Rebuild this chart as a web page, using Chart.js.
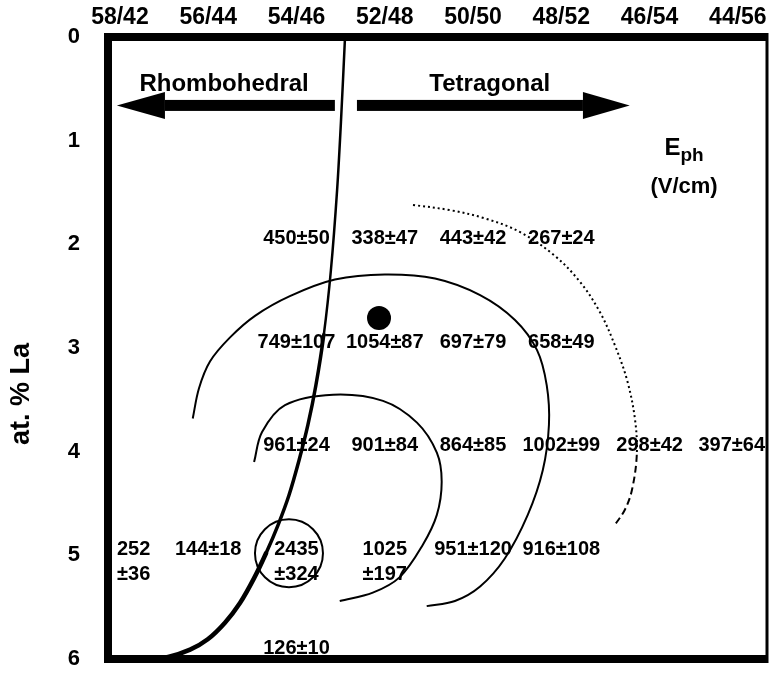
<!DOCTYPE html>
<html>
<head>
<meta charset="utf-8">
<script src="https://cdn.jsdelivr.net/npm/chart.js@4.4.1/dist/chart.umd.min.js"></script>
<style>
  html, body { margin: 0; padding: 0; background: #fff; overflow: hidden; }
  canvas { display: block; }
</style>
</head>
<body>
<canvas id="ephChart" width="771" height="680"></canvas>
<script>
var FONT = '"Liberation Sans", Arial, Helvetica, sans-serif';

// Zr/Ti ratio along the top, at.% La down the side
var zrValues = [58, 56, 54, 52, 50, 48, 46, 44];
var compLabels = ['58/42', '56/44', '54/46', '52/48', '50/50', '48/52', '46/54', '44/56'];
var laTicks = [0, 1, 2, 3, 4, 5, 6];

// E_ph (V/cm) per composition, each entry is [Zr, mean, error]
var ephLa2 = [[54, 450, 50], [52, 338, 47], [50, 443, 42], [48, 267, 24]];
var ephLa3 = [[54, 749, 107], [52, 1054, 87], [50, 697, 79], [48, 658, 49]];
var ephLa4 = [[54, 961, 24], [52, 901, 84], [50, 864, 85], [48, 1002, 99], [46, 298, 42], [44, 397, 64]];
var ephLa5 = [[58, 252, 36], [56, 144, 18], [54, 2435, 324], [52, 1025, 197], [50, 951, 120], [48, 916, 108]];
var ephLa6 = [[54, 126, 10]];
var ephRows = [[2, ephLa2], [3, ephLa3], [4, ephLa4], [5, ephLa5], [6, ephLa6]];
// these values are printed on two lines in the figure
var stackedLabels = ['58/5', '54/5', '52/5'];

// rhombohedral / tetragonal boundary
var boundaryZr = [52.90, 52.99, 53.08, 53.22, 53.38, 53.56, 53.74, 53.94, 54.17, 54.42, 54.69, 54.96, 55.28, 55.62, 56.01, 56.41, 56.91, 57.43, 58.18];
var boundaryLa = [0, 0.80, 1.48, 2.25, 2.87, 3.36, 3.74, 4.08, 4.42, 4.71, 4.98, 5.22, 5.46, 5.65, 5.81, 5.91, 5.98, 6, 6];

// iso-field contours
var outerZr = [56.35, 56.21, 55.96, 55.51, 54.94, 54.15, 53.13, 52.00, 50.86, 49.84, 49.05, 48.55, 48.33, 48.28, 48.42, 48.76, 49.28, 49.84, 50.41, 51.05];
var outerLa = [3.68, 3.39, 3.13, 2.90, 2.69, 2.50, 2.34, 2.29, 2.33, 2.49, 2.73, 3.02, 3.36, 3.74, 4.18, 4.61, 5.03, 5.30, 5.44, 5.49];
var innerZr = [54.96, 54.78, 54.26, 53.17, 52.04, 51.27, 50.82, 50.71, 50.82, 51.14, 51.66, 52.27, 53.02];
var innerLa = [4.10, 3.81, 3.55, 3.45, 3.51, 3.72, 4.01, 4.29, 4.61, 4.90, 5.21, 5.36, 5.44];
var dashZr = [51.36, 50.52, 49.73, 48.94, 48.15, 47.58, 47.13, 46.79, 46.51, 46.33, 46.29, 46.40, 46.56, 46.81];
var dashLa = [1.62, 1.67, 1.75, 1.88, 2.11, 2.36, 2.65, 2.97, 3.31, 3.69, 4.03, 4.37, 4.56, 4.72];

var hotSpot = [54.17, 4.98];
var peakDot = [52.13, 2.71];

function toPoints(xs, ys) {
  return xs.map(function (x, i) { return { x: x, y: ys[i] }; });
}

var figureDecor = {
  id: 'figureDecor',
  afterDatasetsDraw: function (chart) {
    var c = chart.ctx, a = chart.chartArea, xs = chart.scales.x, ys = chart.scales.y;
    c.save();
    c.strokeStyle = '#000';
    c.fillStyle = '#000';

    // frame: heavy on three sides, lighter on the right
    c.lineWidth = 8;
    c.lineJoin = 'miter';
    c.beginPath();
    c.moveTo(a.right, a.top);
    c.lineTo(a.left, a.top);
    c.lineTo(a.left, a.bottom);
    c.lineTo(a.right, a.bottom);
    c.stroke();
    c.lineWidth = 3;
    c.beginPath();
    c.moveTo(a.right, a.top - 4);
    c.lineTo(a.right, a.bottom + 4);
    c.stroke();

    // phase arrows
    function arrow(from, head, tip, la) {
      var y = ys.getPixelForValue(la);
      var x0 = xs.getPixelForValue(from), xh = xs.getPixelForValue(head), xt = xs.getPixelForValue(tip);
      c.fillRect(Math.min(x0, xh), y - 5.5, Math.abs(xh - x0), 11);
      c.beginPath();
      c.moveTo(xt, y);
      c.lineTo(xh, y - 13.5);
      c.lineTo(xh, y + 13.5);
      c.closePath();
      c.fill();
    }
    arrow(53.13, 56.98, 58.07, 0.66);
    arrow(52.63, 47.51, 46.45, 0.66);

    c.textAlign = 'center';
    c.textBaseline = 'middle';
    c.font = 'bold 24px ' + FONT;
    c.fillText('Rhombohedral', xs.getPixelForValue(55.64), ys.getPixelForValue(0.46));
    c.fillText('Tetragonal', xs.getPixelForValue(49.62), ys.getPixelForValue(0.46));

    // E_ph (V/cm) legend text
    var ex = xs.getPixelForValue(45.22), ey = ys.getPixelForValue(1.14);
    c.textBaseline = 'alphabetic';
    c.textAlign = 'left';
    c.font = 'bold 24px ' + FONT;
    var wE = c.measureText('E').width;
    c.font = 'bold 19px ' + FONT;
    var wP = c.measureText('ph').width;
    var sx = ex - (wE + wP) / 2;
    c.font = 'bold 24px ' + FONT;
    c.fillText('E', sx, ey);
    c.font = 'bold 19px ' + FONT;
    c.fillText('ph', sx + wE, ey + 6);
    c.textAlign = 'center';
    c.textBaseline = 'middle';
    c.font = 'bold 22px ' + FONT;
    c.fillText('(V/cm)', ex, ys.getPixelForValue(1.45));

    // measured values
    c.font = 'bold 20px ' + FONT;
    ephRows.forEach(function (row) {
      var la = row[0];
      row[1].forEach(function (p) {
        var stacked = stackedLabels.indexOf(p[0] + '/' + la) >= 0;
        var lines = stacked ? [String(p[1]), '\u00b1' + p[2]] : [p[1] + '\u00b1' + p[2]];
        var w = Math.max.apply(null, lines.map(function (t) { return c.measureText(t).width; }));
        var x = xs.getPixelForValue(p[0]);
        var y = ys.getPixelForValue(la) - 6;
        x = Math.max(x, a.left + w / 2 + 9);
        x = Math.min(x, a.right - w / 2 - 2);
        y = Math.min(y, a.bottom - 11);
        lines.forEach(function (t, i) { c.fillText(t, x, y + i * 25); });
      });
    });

    // y axis title
    c.translate(22, (a.top + a.bottom) / 2 + 46);
    c.rotate(-Math.PI / 2);
    c.font = 'bold 27px ' + FONT;
    c.fillText('at. % La', 0, 0);
    c.restore();
  }
};

var xTickFont = { family: FONT, size: 23, weight: 'bold' };
var yTickFont = { family: FONT, size: 22, weight: 'bold' };

new Chart(document.getElementById('ephChart'), {
  type: 'scatter',
  data: {
    datasets: [{
      label: 'Phase boundary',
      data: toPoints(boundaryZr, boundaryLa),
      showLine: true,
      borderColor: '#000',
      borderWidth: 3.5,
      borderCapStyle: 'round',
      pointRadius: 0,
      tension: 0.3,
      segment: {
        borderWidth: function (ctx) { return ctx.p0DataIndex < 4 ? 2.5 : (ctx.p0DataIndex < 10 ? 3.5 : 4.5); }
      }
    }, {
      label: 'Outer contour',
      data: toPoints(outerZr, outerLa),
      showLine: true,
      borderColor: '#000',
      borderWidth: 2,
      pointRadius: 0,
      tension: 0.35
    }, {
      label: 'Inner contour',
      data: toPoints(innerZr, innerLa),
      showLine: true,
      borderColor: '#000',
      borderWidth: 2,
      pointRadius: 0,
      tension: 0.35
    }, {
      label: 'Dashed contour',
      data: toPoints(dashZr, dashLa),
      showLine: true,
      borderColor: '#000',
      borderWidth: 2,
      pointRadius: 0,
      tension: 0.35,
      segment: {
        borderDash: function (ctx) { return ctx.p0DataIndex >= 10 ? [7, 4] : [2, 3]; }
      }
    }, {
      label: 'Hot spot',
      data: [{ x: hotSpot[0], y: hotSpot[1] }],
      pointRadius: 34,
      pointBackgroundColor: 'rgba(0,0,0,0)',
      pointBorderColor: '#000',
      pointBorderWidth: 2
    }, {
      label: 'Peak',
      data: [{ x: peakDot[0], y: peakDot[1] }],
      pointRadius: 12,
      pointBackgroundColor: '#000',
      pointBorderColor: '#000',
      pointBorderWidth: 0
    }]
  },
  options: {
    responsive: false,
    animation: false,
    events: [],
    layout: { autoPadding: false, padding: { top: 0, left: 0, right: 4, bottom: 21 } },
    plugins: {
      legend: { display: false },
      tooltip: { enabled: false }
    },
    scales: {
      x: {
        type: 'linear',
        position: 'top',
        reverse: true,
        min: 43.34,
        max: 58.27,
        grid: { display: false, drawTicks: false },
        border: { display: false },
        afterBuildTicks: function (s) { s.ticks = zrValues.map(function (v) { return { value: v }; }); },
        afterFit: function (s) { s.height = 37; s.paddingLeft = 0; s.paddingRight = 0; },
        ticks: {
          padding: 6,
          color: '#000',
          font: xTickFont,
          autoSkip: false,
          maxRotation: 0,
          callback: function (v, i) { return compLabels[i]; }
        }
      },
      y: {
        type: 'linear',
        reverse: true,
        min: 0,
        max: 6,
        grid: { display: false, drawTicks: false },
        border: { display: false },
        afterBuildTicks: function (s) { s.ticks = laTicks.map(function (v) { return { value: v }; }); },
        afterFit: function (s) { s.width = 108; s.paddingTop = 0; s.paddingBottom = 0; },
        ticks: {
          padding: 28,
          color: '#000',
          font: yTickFont,
          callback: function (v) { return String(v); }
        }
      }
    }
  },
  plugins: [figureDecor]
});
</script>
</body>
</html>
